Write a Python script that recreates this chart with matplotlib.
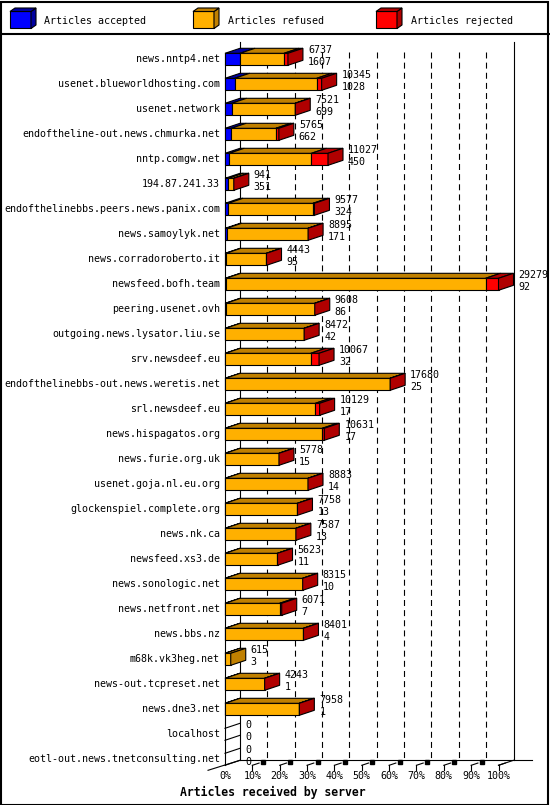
import numpy as np
import matplotlib.pyplot as plt
from matplotlib.patches import Polygon, Rectangle

plt.rcParams['font.family'] = 'DejaVu Sans Mono'
plt.rcParams['lines.scale_dashes'] = False

servers = ['news.nntp4.net', 'usenet.blueworldhosting.com', 'usenet.network',
           'endoftheline-out.news.chmurka.net', 'nntp.comgw.net', '194.87.241.33',
           'endofthelinebbs.peers.news.panix.com', 'news.samoylyk.net',
           'news.corradoroberto.it', 'newsfeed.bofh.team', 'peering.usenet.ovh',
           'outgoing.news.lysator.liu.se', 'srv.newsdeef.eu',
           'endofthelinebbs-out.news.weretis.net', 'srl.newsdeef.eu',
           'news.hispagatos.org', 'news.furie.org.uk', 'usenet.goja.nl.eu.org',
           'glockenspiel.complete.org', 'news.nk.ca', 'newsfeed.xs3.de',
           'news.sonologic.net', 'news.netfront.net', 'news.bbs.nz',
           'm68k.vk3heg.net', 'news-out.tcpreset.net', 'news.dne3.net',
           'localhost', 'eotl-out.news.tnetconsulting.net']
total = [6737, 10345, 7521, 5765, 11027, 941, 9577, 8895, 4443, 29279, 9608,
         8472, 10067, 17680, 10129, 10631, 5778, 8883, 7758, 7587, 5623, 8315,
         6071, 8401, 615, 4243, 7958, 0, 0]
accepted = [1607, 1028, 699, 662, 450, 351, 324, 171, 95, 92, 86, 42, 32, 25,
            17, 17, 15, 14, 13, 13, 11, 10, 7, 4, 3, 1, 1, 0, 0]
rejected = [420, 530, 15, 320, 1780, 5, 160, 20, 10, 1390, 10, 10, 890, 20,
            460, 220, 5, 5, 5, 5, 5, 5, 220, 5, 0, 5, 5, 0, 0]
pct_ticks = [0, 10, 20, 30, 40, 50, 60, 70, 80, 90, 100]

total = np.array(total)
accepted = np.array(accepted)
rejected = np.array(rejected)
refused = total - accepted - rejected

front = ['#0000ff', '#ffb000', '#ff0000']
dark = ['#0000a0', '#c08000', '#b00000']
labels = ['Articles accepted', 'Articles refused', 'Articles rejected']

W, H_PX = 550, 805
fig = plt.figure(figsize=(W / 100, H_PX / 100), dpi=100)

# main axes: x in percent of the biggest feed, y in rows
x0px, scale = 225.0, 273.5 / 100
y0px, step = 59.3, 25.0
ax = fig.add_axes([0, 0, 1, 1])
ax.set_xlim(-x0px / scale, (W - x0px) / scale)
ax.set_ylim((H_PX - y0px) / step, -y0px / step)
ax.axis('off')

DX = 15 / scale
DY = -5 / step
H = 6 / step
n = len(servers)
floor_f = n - 1 + H
floor_b = floor_f + DY
top_wall = -0.7
lw = 0.8

# back wall and grid
ax.plot([DX, DX], [top_wall, floor_b], color='k', lw=lw, zorder=1)
ax.plot([100 + DX, 100 + DX], [top_wall, floor_b], color='k', lw=lw, zorder=1)
for p in pct_ticks[1:-1]:
    ax.plot([p + DX, p + DX], [-0.3, floor_b], color='k', lw=lw,
            dashes=(4.3, 3.0), zorder=1)
# floor
ax.plot([DX, 112.3], [floor_b, floor_b], color='k', lw=lw, zorder=1)
ax.plot([-6.2, DX], [floor_f + 0.2, floor_b], color='k', lw=lw, zorder=1)
ax.plot([100, 100 + DX], [floor_f, floor_b], color='k', lw=lw, zorder=1)
ax.plot([0, 0], [-H, floor_f], color='k', lw=lw, zorder=1)
for p in pct_ticks:
    if p > 0:
        ax.plot([p, p], [floor_f, floor_f + 0.17], color='k', lw=lw, zorder=1)
        ax.plot([p, p + DX * 0.45], [floor_f, floor_f + DY * 0.45], color='k', lw=lw, zorder=1)
    if 0 < p < 100:
        ax.plot([p + DX * 0.7], [floor_f + DY * 0.75], marker='s', ms=2.2,
                color='k', zorder=1)
    ax.text(p, floor_f + 0.42, '%d%%' % p, ha='center', va='center', fontsize=7.2)

# bars
vmax = total.max()
for i in range(n):
    segs = [accepted[i], refused[i], rejected[i]]
    start = 0.0
    last = None
    for k, v in enumerate(segs):
        if v <= 0:
            continue
        w = v / vmax * 100
        yt, yb = i - H, i + H
        ax.add_patch(Polygon([(start, yt), (start + w, yt), (start + w, yb), (start, yb)],
                             closed=True, fc=front[k], ec='k', lw=lw, zorder=3))
        ax.add_patch(Polygon([(start, yt), (start + w, yt), (start + w + DX, yt + DY),
                              (start + DX, yt + DY)],
                             closed=True, fc=dark[k], ec='k', lw=lw, zorder=3))
        start += w
        last = k
    if last is not None:
        yt, yb = i - H, i + H
        ax.add_patch(Polygon([(start, yt), (start + DX, yt + DY), (start + DX, yb + DY),
                              (start, yb)],
                             closed=True, fc=dark[last], ec='k', lw=lw, zorder=3))
    else:
        for yy in (i - H, i + H):
            ax.plot([0, DX], [yy, yy + DY], color='k', lw=lw, zorder=2)
    tx = start + DX + 5 / scale
    ax.text(tx, i - 9 / step, str(total[i]), ha='left', va='center', fontsize=7.2, zorder=4)
    ax.text(tx, i + 2.5 / step, str(accepted[i]), ha='left', va='center', fontsize=7.2, zorder=4)
    ax.text(-5 / scale, i, servers[i], ha='right', va='center', fontsize=7.2)

fig.text(273 / W, 1 - 792 / H_PX, 'Articles received by server', ha='center',
         va='center', fontsize=8.3, fontweight='bold')

# legend strip in pixel coordinates
lax = fig.add_axes([0, 1 - 34 / H_PX, 1, 34 / H_PX])
lax.set_xlim(0, W)
lax.set_ylim(34, 0)
lax.axis('off')
for k, (lx, tx) in enumerate([(10, 44), (193, 228), (376, 411)]):
    cw, ch, cdx, cdy, ct = 21, 17, 5, 3.5, 11.5
    lax.add_patch(Polygon([(lx, ct), (lx + cw, ct), (lx + cw, ct + ch), (lx, ct + ch)],
                          closed=True, fc=front[k], ec='k', lw=lw))
    lax.add_patch(Polygon([(lx + cw, ct), (lx + cw + cdx, ct - cdy),
                           (lx + cw + cdx, ct + ch - cdy), (lx + cw, ct + ch)],
                          closed=True, fc=dark[k], ec='k', lw=lw))
    lax.add_patch(Polygon([(lx, ct), (lx + cdx, ct - cdy), (lx + cw + cdx, ct - cdy),
                           (lx + cw, ct)], closed=True, fc=dark[k], ec='k', lw=lw))
    lax.text(tx, 20.5, labels[k], ha='left', va='center', fontsize=7.2)

# frame and separator
fig.add_artist(Rectangle((0.5 / W, 0.5 / H_PX), 1 - 2.5 / W, 1 - 2.5 / H_PX,
                         transform=fig.transFigure, fill=False, ec='k', lw=1.5))
fig.add_artist(plt.Line2D([0, 1], [1 - 34 / H_PX, 1 - 34 / H_PX],
                          transform=fig.transFigure, color='k', lw=1.5))

fig.savefig('out.png', dpi=100)
